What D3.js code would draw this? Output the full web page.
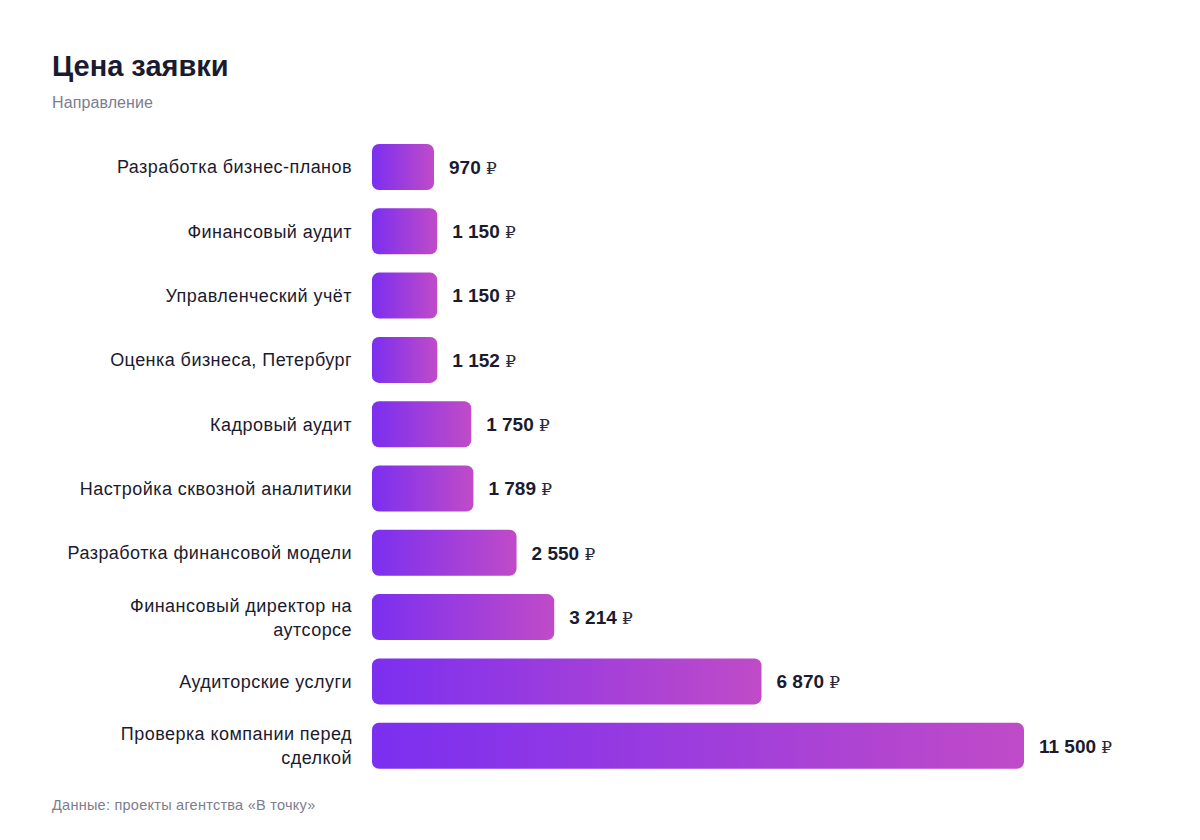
<!DOCTYPE html>
<html>
<head>
<meta charset="utf-8">
<script src="https://cdn.jsdelivr.net/npm/d3@7"></script>
<style>
  html, body { margin: 0; padding: 0; background: #ffffff; }
  svg { display: block; font-family: "Liberation Sans", Arial, Helvetica, sans-serif; }
</style>
</head>
<body>
<svg id="chart" width="1200" height="840"></svg>
<script>
const categories = [
  "Разработка бизнес-планов",
  "Финансовый аудит",
  "Управленческий учёт",
  "Оценка бизнеса, Петербург",
  "Кадровый аудит",
  "Настройка сквозной аналитики",
  "Разработка финансовой модели",
  "Финансовый директор на аутсорсе",
  "Аудиторские услуги",
  "Проверка компании перед сделкой"
];
const values = [970, 1150, 1150, 1152, 1750, 1789, 2550, 3214, 6870, 11500];
const titleText = "Цена заявки";
const subtitleText = "Направление";
const footerText = "Данные: проекты агентства «В точку»";
const currency = "₽";

const svg = d3.select("#chart");
const data = categories.map((c, i) => ({ cat: c, val: values[i] }));

const barLeft = 372;
const x = d3.scaleLinear().domain([0, d3.max(values)]).range([0, 652]);
const minW = 62;
const y = d3.scaleBand().domain(categories).range([134.85, 777.85]).paddingInner(0.285).paddingOuter(0.1425);

const defs = svg.append("defs");
const grad = defs.append("linearGradient").attr("id", "barGrad")
  .attr("x1", "0%").attr("y1", "0%").attr("x2", "100%").attr("y2", "0%");
grad.append("stop").attr("offset", "0%").attr("stop-color", "#7b2ff0");
grad.append("stop").attr("offset", "100%").attr("stop-color", "#c04bc8");

// Title
svg.append("text").attr("x", 52).attr("y", 76)
  .attr("font-size", 29).attr("font-weight", 700).attr("fill", "#1b1b2f")
  .text(titleText);
svg.append("text").attr("x", 52).attr("y", 108)
  .attr("font-size", 16).attr("letter-spacing", "0.1px").attr("fill", "#7d7d8f")
  .text(subtitleText);

// Bars
const g = svg.append("g");
g.selectAll("rect.bar").data(data).join("rect")
  .attr("class", "bar")
  .attr("x", barLeft)
  .attr("y", d => y(d.cat))
  .attr("width", d => Math.max(x(d.val), minW))
  .attr("height", y.bandwidth())
  .attr("rx", 7).attr("ry", 7)
  .attr("fill", "url(#barGrad)");

// Value labels
const fmt = v => d3.format(",")(v).replace(/,/g, " ");
const vl = g.selectAll("text.val").data(data).join("text")
  .attr("class", "val")
  .attr("x", d => barLeft + Math.max(x(d.val), minW) + 15)
  .attr("y", d => y(d.cat) + y.bandwidth() / 2)
  .attr("dy", "0.36em")
  .attr("font-size", 19).attr("font-weight", 700).attr("fill", "#1b1b2f");
vl.append("tspan").text(d => fmt(d.val) + " ");
vl.append("tspan").attr("font-family", "DejaVu Serif, serif").attr("font-weight", 400)
  .attr("font-size", 17).attr("fill", "#2a2a3a").text(currency);

// Category labels with wrapping
const maxLabelW = 298;
const cl = g.selectAll("text.cat").data(data).join("text")
  .attr("class", "cat")
  .attr("text-anchor", "end")
  .attr("font-size", 18).attr("letter-spacing", "0.45px").attr("fill", "#1b1b2f");
cl.each(function(d) {
  const t = d3.select(this);
  const words = d.cat.split(" ");
  const lines = [];
  let cur = [];
  const probe = t.append("tspan");
  words.forEach(w => {
    const test = cur.concat([w]).join(" ");
    probe.text(test);
    if (probe.node().getComputedTextLength() > maxLabelW && cur.length) {
      lines.push(cur.join(" "));
      cur = [w];
    } else {
      cur.push(w);
    }
  });
  lines.push(cur.join(" "));
  probe.remove();
  const lh = 24;
  const cy = y(d.cat) + y.bandwidth() / 2;
  lines.forEach((ln, i) => {
    t.append("tspan").attr("x", 352)
      .attr("y", cy + (i - (lines.length - 1) / 2) * lh)
      .attr("dy", "0.36em")
      .text(ln);
  });
});

// Footer
svg.append("text").attr("x", 52).attr("y", 810)
  .attr("font-size", 14.5).attr("letter-spacing", "0.25px").attr("fill", "#7d7d8f")
  .text(footerText);
</script>
</body>
</html>
